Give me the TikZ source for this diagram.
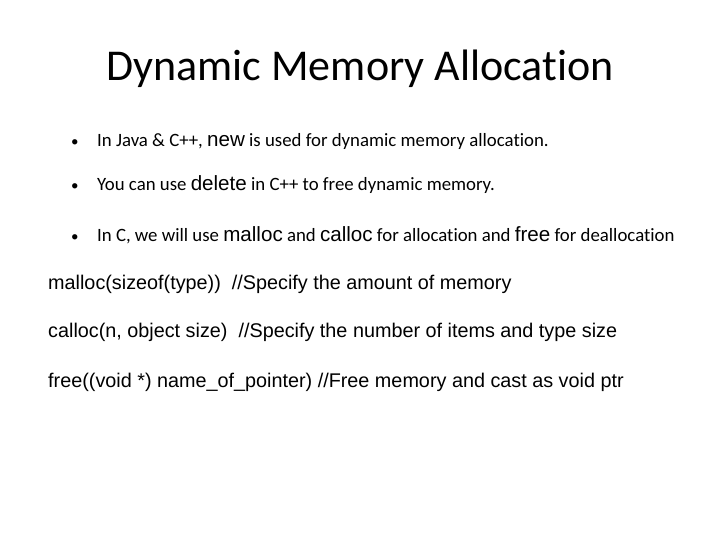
\documentclass[tikz,border=0pt]{standalone}
\usepackage{fontspec}
\setmainfont[Ligatures={NoCommon}]{Carlito}
\newfontfamily\ar{Liberation Sans}
\newcommand\arw[1]{{\ar\fontsize{20.6}{22}\selectfont #1}}
\begin{document}
\begin{tikzpicture}[x=1pt,y=-1pt,
  txt/.style={anchor=base west,inner sep=0pt,font=\fontsize{18.8}{22}\selectfont},
  dot/.style={anchor=base west,inner sep=0pt,font=\fontsize{15}{22}\selectfont},
  code/.style={anchor=base west,inner sep=0pt,font=\ar\fontsize{19.8}{22}\selectfont}]
\useasboundingbox[fill=white] (0,0) rectangle (720,540);
\node[anchor=base,inner sep=0pt,font=\fontsize{44}{50}\selectfont] (title) at (360,81) {Dynamic Memory Allocation};
\node[dot] (b1d) at (71,147) {•};
\node[txt] (b1) at (97,147) {In Java \& C++, \arw{new} is used for dynamic memory allocation.};
\node[dot] (b2d) at (71,191) {•};
\node[txt] (b2) at (97,191) {You can use \arw{delete} in C++ to free dynamic memory.};
\node[dot] (b3d) at (71,241) {•};
\node[txt] (b3) at (97,241) {In C, we will use \arw{malloc} and \arw{calloc} for allocation and \arw{free} for deallocation};
\node[code] (c1) at (48,289) {malloc(sizeof(type))\ \ //Specify the amount of memory};
\node[code] (c2) at (48,337) {calloc(n, object size)\ \ //Specify the number of items and type size};
\node[code] (c3) at (48,387) {free((void *) name\_of\_pointer) //Free memory and cast as void ptr};
\end{tikzpicture}
\end{document}
